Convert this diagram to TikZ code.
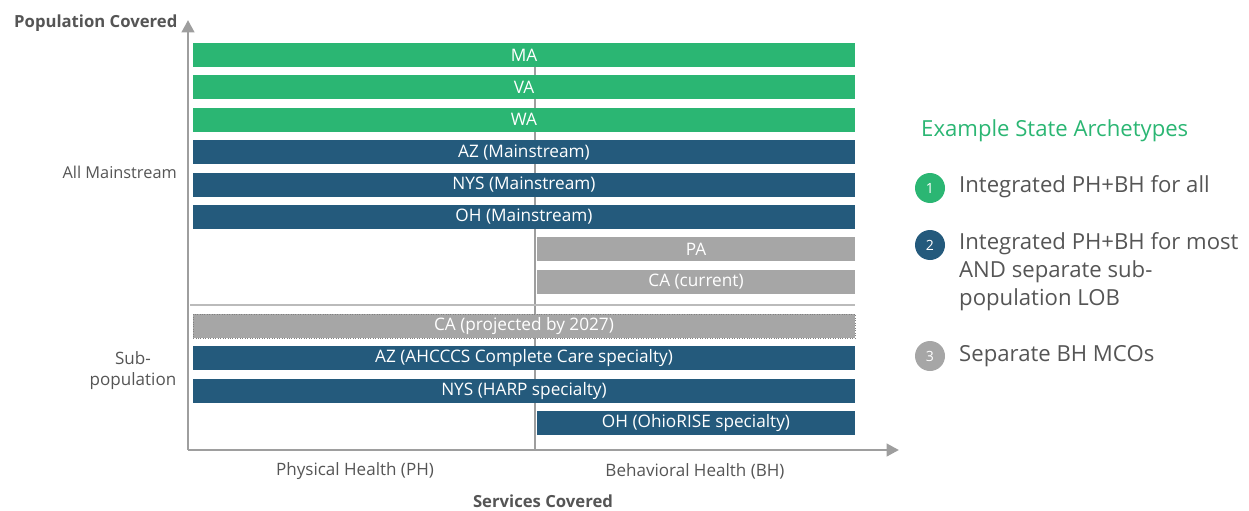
\documentclass[tikz,border=0pt]{standalone}
\usepackage{fontspec}
\setmainfont{Open Sans}
\usetikzlibrary{arrows.meta,positioning}
\definecolor{archgreen}{HTML}{2BB673}
\definecolor{archnavy}{HTML}{245A7C}
\definecolor{archgray}{HTML}{A6A6A6}
\definecolor{labelgray}{HTML}{555555}
\definecolor{axisgray}{HTML}{9E9E9E}
\tikzset{
  bar/.style={minimum height=0.48cm,inner sep=0pt,text=white,font=\fontsize{9.8}{11}\selectfont},
  fullbar/.style={bar,minimum width=13.24cm},
  halfbar/.style={bar,minimum width=6.36cm},
  axis/.style={axisgray,line width=1.7pt,-{Triangle[length=7pt,width=7pt]}},
  axlabel/.style={text=labelgray,font=\fontsize{9.7}{12}\selectfont},
  axtitle/.style={text=labelgray,font=\fontsize{9.5}{11}\selectfont\bfseries},
  legnum/.style={circle,minimum size=0.6cm,inner sep=0pt,text=white,font=\fontsize{8}{9}\selectfont},
  legtext/.style={anchor=west,align=left,text=labelgray,font=\fontsize{12.6}{15.9}\selectfont},
}

\begin{document}
\begin{tikzpicture}[x=0.02cm,y=-0.02cm]
\useasboundingbox (0,0) rectangle (1249,511);
% axes and the PH/BH divider
\coordinate (o) at (188,450);
\coordinate (ytip) at (188,20);
\coordinate (xtip) at (899,450);
\coordinate (divtop) at (535,45);
\coordinate (divbot) at (535,450);
\coordinate (sepl) at (190,305);
\coordinate (sepr) at (855,305);
\draw[axisgray,line width=0.6pt] (divtop) -- (divbot);
\draw[axisgray!70,line width=1.2pt] (sepl) -- (sepr);
\draw[axis] (o) -- (ytip);
\draw[axis] (o) -- (xtip);
% mainstream population
\node[fullbar,fill=archgreen] (ma) at (524,55) {MA};
\node[fullbar,fill=archgreen] (va) at (524,87.4) {VA};
\node[fullbar,fill=archgreen] (wa) at (524,119.8) {WA};
\node[fullbar,fill=archnavy] (azm) at (524,152.2) {AZ (Mainstream)};
\node[fullbar,fill=archnavy] (nysm) at (524,184.6) {NYS (Mainstream)};
\node[fullbar,fill=archnavy] (ohm) at (524,217) {OH (Mainstream)};
\node[halfbar,fill=archgray] (pa) at (696,249.4) {PA};
\node[halfbar,fill=archgray] (cacur) at (696,281.8) {CA (current)};
% sub-population
\node[fullbar,fill=archgray,draw=gray,densely dotted] (caproj) at (524,326) {CA (projected by 2027)};
\node[fullbar,fill=archnavy] (azs) at (524,358.4) {AZ (AHCCCS Complete Care specialty)};
\node[fullbar,fill=archnavy] (nyss) at (524,390.8) {NYS (HARP specialty)};
\node[halfbar,fill=archnavy] (ohs) at (696,423.2) {OH (OhioRISE specialty)};
% axis labels
\node[axtitle,anchor=west] (ytitle) at (8,23) {Population Covered};
\node[axlabel,anchor=east,font=\fontsize{9.3}{12}\selectfont] (mainlbl) at (183,172) {All Mainstream};
\node[axlabel,align=center] (sublbl) at (133,371) {Sub-\\population};
\node[axlabel] (phlbl) at (355,471) {Physical Health (PH)};
\node[axlabel] (bhlbl) at (695,471) {Behavioral Health (BH)};
\node[axtitle] (xtitle) at (543,501) {Services Covered};
% legend
\node[legtext,text=archgreen] (legtitle) at (915,131) {Example State Archetypes};
\node[legnum,fill=archgreen] (n1) at (930,188) {1};
\node[legnum,fill=archnavy] (n2) at (930,245) {2};
\node[legnum,fill=archgray] (n3) at (930,356) {3};
\node[legtext] (t1) at (953,187) {Integrated PH+BH for all};
\node[legtext] (t2) at (953,272) {Integrated PH+BH for most\\AND separate sub-\\population LOB};
\node[legtext] (t3) at (953,356) {Separate BH MCOs};
\end{tikzpicture}
\end{document}
